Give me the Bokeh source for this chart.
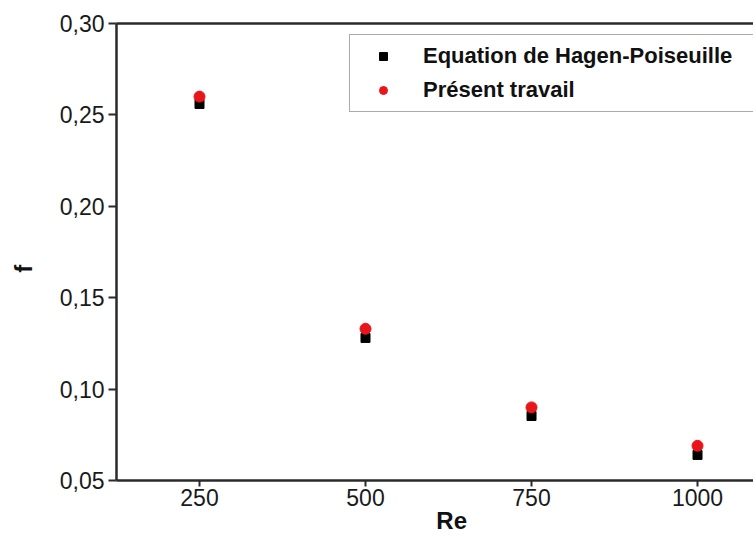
from bokeh.plotting import figure
from bokeh.models import (Range1d, FixedTicker, CustomJSTickFormatter, LinearAxis,
                          Legend, LegendItem)
from bokeh.embed import file_html
from bokeh.resources import INLINE

# Data
re_vals = [250, 500, 750, 1000]
f_hagen = [0.256, 0.128, 0.0853, 0.064]
f_present = [0.260, 0.133, 0.090, 0.069]
x_ticks = [250, 500, 750, 1000]
y_ticks = [0.05, 0.10, 0.15, 0.20, 0.25, 0.30]
x_title = "Re"
y_title = "f"

FONT = "Liberation Sans"
NB = "\u00a0"

p = figure(width=753, height=536, output_backend="svg", toolbar_location=None,
           x_range=Range1d(125, 1084.3), y_range=Range1d(0.05, 0.30),
           min_border_left=116, min_border_right=0, min_border_top=23,
           min_border_bottom=56)
p.outline_line_color = None
p.background_fill_color = "white"
p.border_fill_color = "white"
p.xgrid.visible = False
p.ygrid.visible = False

r1 = p.scatter(re_vals, f_hagen, marker="square", size=9, color="black")
r2 = p.scatter(re_vals, f_present, marker="circle", size=11, color="#e8161b")

for ax in (p.xaxis[0], p.yaxis[0]):
    ax.axis_line_width = 2.5
    ax.axis_line_color = "#2a2a2a"
    ax.major_tick_line_width = 2
    ax.major_tick_line_color = "#2a2a2a"
    ax.major_tick_in = 0
    ax.minor_tick_line_color = None
    ax.major_label_text_font = FONT
    ax.major_label_text_font_size = "23px"
    ax.major_label_text_color = "#1a1a1a"
    ax.axis_label_text_font = FONT
    ax.axis_label_text_font_style = "bold"
    ax.axis_label_text_font_size = "24px"
    ax.axis_label_text_color = "#111111"

p.xaxis[0].ticker = FixedTicker(ticks=x_ticks)
p.xaxis[0].major_tick_out = 6
p.xaxis[0].major_label_standoff = 2
p.xaxis[0].axis_label = NB * 5 + x_title
p.xaxis[0].axis_label_standoff = -2

p.yaxis[0].ticker = FixedTicker(ticks=y_ticks)
p.yaxis[0].major_tick_out = 8
p.yaxis[0].major_label_standoff = 4
p.yaxis[0].formatter = CustomJSTickFormatter(code="return tick.toFixed(2).replace('.', ',');")
p.yaxis[0].axis_label = y_title + NB * 5
p.yaxis[0].axis_label_standoff = 20

top = LinearAxis(ticker=FixedTicker(ticks=[]), major_label_text_font_size="0px",
                 axis_line_width=2.5, axis_line_color="#2a2a2a",
                 major_tick_line_color=None, minor_tick_line_color=None)
p.add_layout(top, "above")

legend = Legend(items=[LegendItem(label="Equation de Hagen-Poiseuille", renderers=[r1]),
                       LegendItem(label="Présent travail", renderers=[r2])],
                location=(233, 368))
legend.label_text_font = FONT
legend.label_text_font_style = "bold"
legend.label_text_font_size = "22px"
legend.label_text_color = "#111111"
legend.padding = 8
legend.glyph_width = 50
legend.glyph_height = 20
legend.label_height = 20
legend.label_width = 345
legend.label_standoff = 15
legend.spacing = 8
legend.margin = 0
legend.border_line_color = "#555555"
legend.border_line_width = 1.2
legend.background_fill_alpha = 1
p.add_layout(legend, "center")

open("out.html", "w").write(file_html(p, INLINE))
